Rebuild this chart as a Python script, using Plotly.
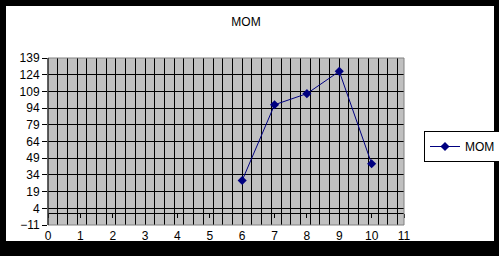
import plotly.graph_objects as go

x_vals = [6, 7, 8, 9, 10]
mom_vals = [29, 97, 107, 127, 44]
series_name = "MOM"
title_text = "MOM"
y_min, y_max, y_step = -11, 139, 15
x_min, x_max = 0, 11

W, H = 499, 256
ML, MR, MT, MB = 48, 95, 58, 31
pw = W - ML - MR
ph = H - MT - MB

font = dict(family="Liberation Sans, Arial, sans-serif", size=12, color="black")

fig = go.Figure()
fig.add_trace(go.Scatter(
    x=x_vals, y=mom_vals, name=series_name, mode="lines+markers",
    line=dict(color="#000080", width=1),
    marker=dict(symbol="diamond", size=7, color="#000080"),
))

zero_pos = (0 - y_min) / (y_max - y_min)

fig.update_layout(
    width=W, height=H,
    margin=dict(l=ML, r=MR, t=MT, b=MB, pad=0, autoexpand=False),
    paper_bgcolor="white",
    plot_bgcolor="#C0C0C0",
    font=font,
    title=dict(text=title_text, xref="container", yref="container",
               x=246 / W, y=1 - 22 / H, xanchor="center", yanchor="middle",
               font=dict(size=12, color="black")),
    showlegend=True,
    legend=dict(x=(424 - ML) / pw, y=(H - MB - 131) / ph,
                xanchor="left", yanchor="top",
                bordercolor="black", borderwidth=1, bgcolor="white",
                itemwidth=30, font=font, tracegroupgap=0),
    xaxis=dict(range=[x_min, x_max], dtick=0.3, tick0=0, showgrid=True,
               gridcolor="black", gridwidth=1, showticklabels=False,
               ticks="", zeroline=False, showline=False),
    xaxis2=dict(range=[x_min, x_max], dtick=1, tick0=0, overlaying="x",
                side="bottom", anchor="y", showgrid=False, ticks="",
                showline=False, zeroline=False, ticklabelstandoff=2,
                tickfont=font),
    xaxis3=dict(range=[x_min, x_max], dtick=1, tick0=0, overlaying="x",
                anchor="free", position=zero_pos, side="bottom",
                showgrid=False, ticks="outside", ticklen=4, tickcolor="black",
                showticklabels=False, showline=True, linecolor="black",
                linewidth=1, zeroline=False),
    yaxis=dict(range=[y_min, y_max], dtick=y_step, tick0=y_min,
               showgrid=True, gridcolor="black", gridwidth=1,
               ticks="outside", ticklen=5, tickcolor="black",
               showline=False, zeroline=False, tickfont=font),
)

# dummy traces to register overlay axes
fig.add_trace(go.Scatter(x=[x_min], y=[y_min], xaxis="x2", mode="markers",
                         marker=dict(opacity=0), showlegend=False, hoverinfo="skip"))
fig.add_trace(go.Scatter(x=[x_min], y=[y_min], xaxis="x3", mode="markers",
                         marker=dict(opacity=0), showlegend=False, hoverinfo="skip"))

# black outer frame (pixel -> paper fraction)
def px_x(p):
    return (p - ML) / pw

def px_y(p):
    return (H - MB - p) / ph

frame = [(0, 5, 0, H), (495, W, 0, H), (0, W, 0, 5), (0, W, 242, H)]
for x0, x1, y0, y1 in frame:
    fig.add_shape(type="rect", xref="paper", yref="paper",
                  x0=px_x(x0 - 1), x1=px_x(x1 + 1), y0=px_y(y1 + 1), y1=px_y(y0 - 1),
                  fillcolor="black", line=dict(width=0), layer="above")
# plot area border
fig.add_shape(type="rect", xref="paper", yref="paper", x0=0, x1=1, y0=0, y1=1,
              line=dict(color="#808080", width=1), layer="above")
fig.add_shape(type="line", xref="paper", yref="paper", x0=0, x1=0, y0=0, y1=1,
              line=dict(color="black", width=1), layer="above")

fig.write_html("out.html")
